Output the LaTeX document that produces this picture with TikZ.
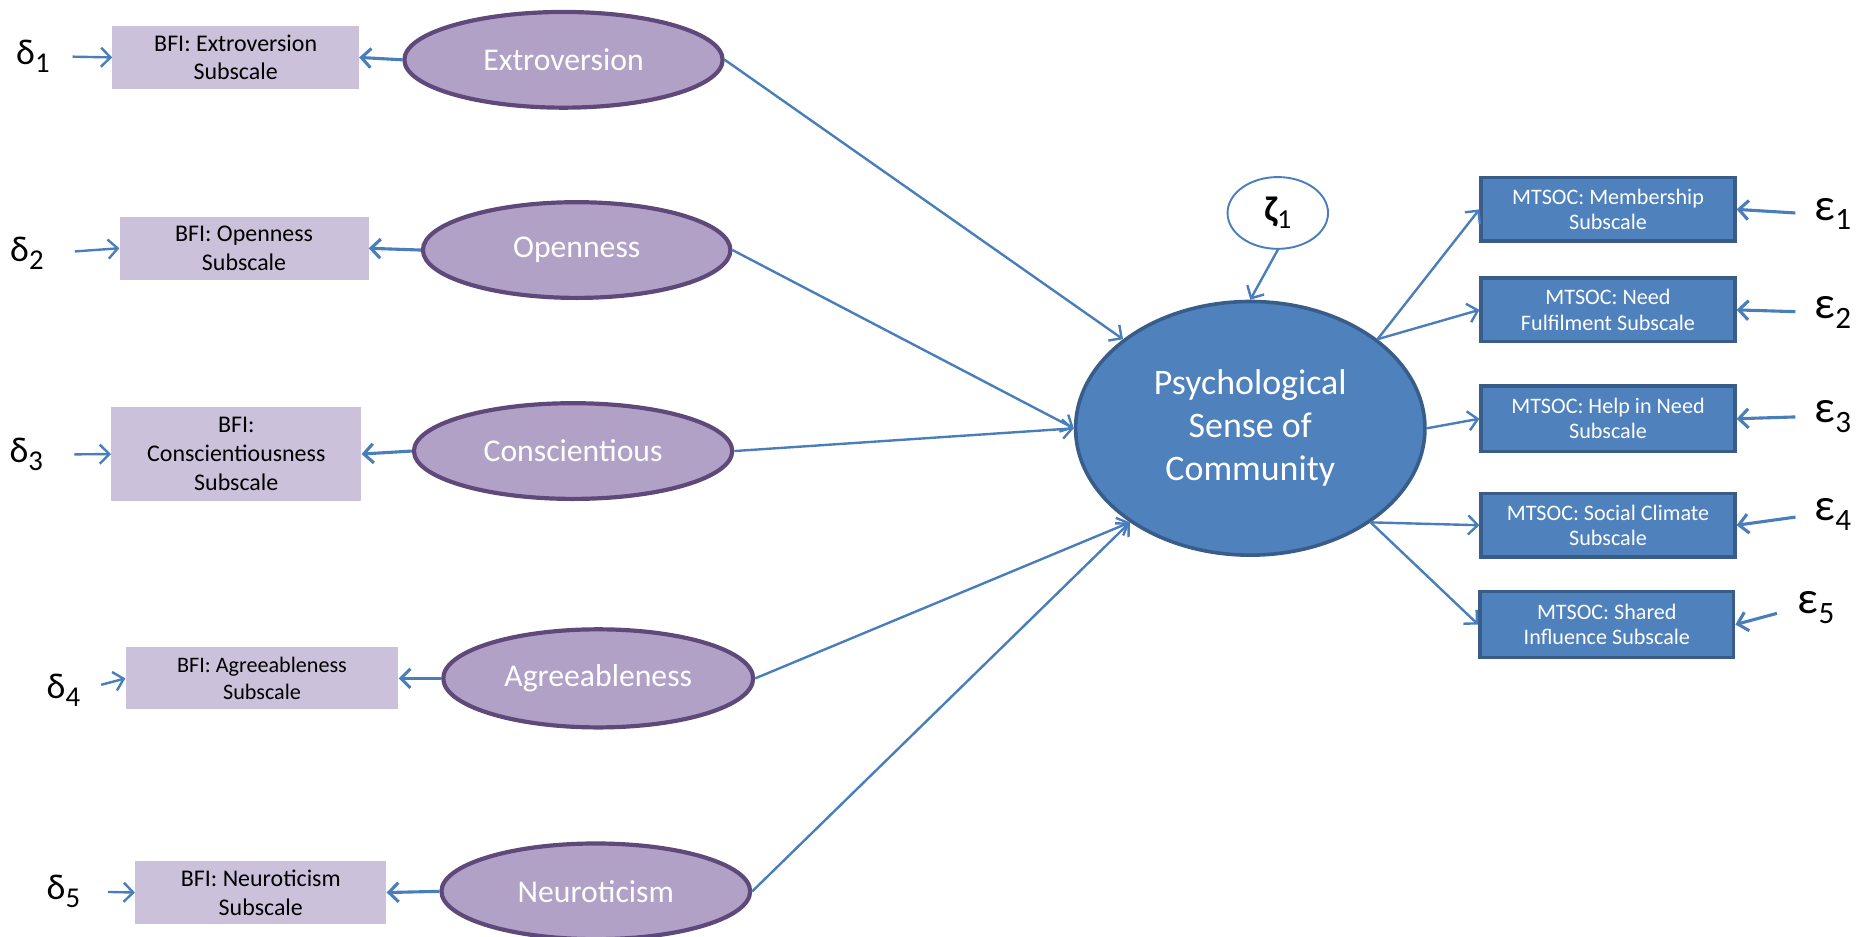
\documentclass[tikz,border=0pt]{standalone}
\usepackage{fontspec}
\setmainfont{Carlito}
\usetikzlibrary{arrows.meta,shapes.geometric}
\definecolor{arrowblue}{HTML}{4A7EBB}
\definecolor{boxblue}{HTML}{4F81BD}
\definecolor{boxblueline}{HTML}{385D8A}
\definecolor{lilac}{HTML}{CCC1DA}
\definecolor{purplefill}{HTML}{B2A1C7}
\definecolor{purpleline}{HTML}{5F497A}
\newcommand\lowsub[3]{\raisebox{-#2pt}{\fontsize{#1}{#1}\selectfont #3}}
\begin{document}
\begin{tikzpicture}[x=1pt,y=-1pt,
  bfibox/.style={rectangle, fill=lilac, inner sep=0pt, align=center, text=black,
    font=\fontsize{20}{24}\selectfont},
  latent/.style={ellipse, fill=purplefill, draw=purpleline, line width=3.5pt, inner sep=0pt,
    text=white, font=\fontsize{26.5}{30}\selectfont},
  central/.style={ellipse, fill=boxblue, draw=boxblueline, line width=3pt, inner sep=0pt,
    text=white, align=center, font=\fontsize{30}{36}\selectfont,
    minimum width=292pt, minimum height=212pt},
  mtsoc/.style={rectangle, fill=boxblue, draw=boxblueline, line width=3pt, inner sep=0pt,
    text=white, align=center, font=\fontsize{18.5}{21}\selectfont,
    minimum width=212pt},
  deltalabel/.style={inner sep=0pt, text=black, font=\fontsize{30}{30}\selectfont},
  epslabel/.style={inner sep=0pt, text=black, font=\fontsize{38}{38}\selectfont},
  disturb/.style={ellipse, fill=white, draw=arrowblue, line width=1.6pt, inner sep=0pt,
    minimum width=84pt, minimum height=60pt, font=\fontsize{30}{30}\selectfont},
  arr/.style={draw=arrowblue, line width=2pt, -{Straight Barb[length=8pt,width=16pt]}},
  thickarr/.style={arr, line width=2.6pt}
]
\useasboundingbox (0,0) rectangle (1568,783);

% left indicator boxes
\node[bfibox, minimum width=206pt, minimum height=52pt] (b1) at (197,48) {BFI: Extroversion\\Subscale};
\node[bfibox, minimum width=208pt, minimum height=53pt] (b2) at (204,207.5) {BFI: Openness\\Subscale};
\node[bfibox, minimum width=209pt, minimum height=79pt] (b3) at (197.5,379.5) {BFI:\\Conscientiousness\\Subscale};
\node[bfibox, minimum width=228pt, minimum height=52pt, font=\fontsize{18.5}{23}\selectfont] (b4) at (219,567) {BFI: Agreeableness\\Subscale};
\node[bfibox, minimum width=210pt, minimum height=52pt] (b5) at (218,746) {BFI: Neuroticism\\Subscale};

% delta labels
\node[deltalabel] (d1) at (27.5,47) {δ\lowsub{24}{6.5}{1}};
\node[deltalabel] (d2) at (22.5,212) {δ\lowsub{24}{6.5}{2}};
\node[deltalabel] (d3) at (22,380) {δ\lowsub{24}{6.5}{3}};
\node[deltalabel] (d4) at (53,577) {δ\lowsub{24}{6.5}{4}};
\node[deltalabel] (d5) at (53,745) {δ\lowsub{24}{6.5}{5}};

% latent personality ellipses
\node[latent, minimum width=266pt, minimum height=80pt] (ext) at (471,50) {Extroversion};
\node[latent, minimum width=257pt, minimum height=80pt] (ope) at (482,209) {Openness};
\node[latent, minimum width=266pt, minimum height=80pt] (con) at (479,377) {Conscientious};
\node[latent, minimum width=259pt, minimum height=82pt] (agr) at (500,567) {Agreeableness};
\node[latent, minimum width=258pt, minimum height=80pt] (neu) at (498,745) {Neuroticism};

% central construct
\node[central] (psc) at (1045,358) {Psychological\\Sense of\\Community};
\node[disturb] (zeta) at (1068,178) {{\bfseries ζ}\lowsub{23}{6}{1}};

% MTSOC boxes
\node[mtsoc, minimum height=53pt] (mem) at (1344,175) {MTSOC: Membership\\Subscale};
\node[mtsoc, minimum height=53pt] (need) at (1344,259) {MTSOC: Need\\Fulfilment Subscale};
\node[mtsoc, minimum height=55pt] (help) at (1344,350) {MTSOC: Help in Need\\Subscale};
\node[mtsoc, minimum height=53pt] (soc) at (1344,439) {MTSOC: Social Climate\\Subscale};
\node[mtsoc, minimum height=55pt] (sha) at (1343,522) {MTSOC: Shared\\Influence Subscale};

% epsilon labels
\node[epslabel] (e1) at (1532,179) {ε\lowsub{26}{8}{1}};
\node[epslabel] (e2) at (1532,261) {ε\lowsub{26}{8}{2}};
\node[epslabel] (e3) at (1532,348) {ε\lowsub{26}{8}{3}};
\node[epslabel] (e4) at (1532,430) {ε\lowsub{26}{8}{4}};
\node[epslabel] (e5) at (1518,508) {ε\lowsub{26}{8}{5}};

% delta arrows
\draw[arr, shorten <=19pt] (d1.east) -- (b1.west);
\draw[arr, shorten <=26pt] (d2.east) -- (b2.west);
\draw[arr, shorten <=26pt] (d3.east) -- (b3.west);
\draw[arr, shorten <=18pt] (d4.east) -- (b4.west);
\draw[arr, shorten <=23pt] (d5.east) -- (b5.west);

% loadings of personality indicators
\draw[thickarr] (ext.west) -- (b1.east);
\draw[thickarr] (ope.west) -- (b2.east);
\draw[thickarr] (con.west) -- (b3.east);
\draw[thickarr] (agr.west) -- (b4.east);
\draw[thickarr] (neu.west) -- (b5.east);

% structural paths
\draw[arr] (ext.east) -- (psc.145);
\draw[arr] (ope.east) -- (psc.west);
\draw[arr] (con.east) -- (psc.west);
\draw[arr] (agr.east) -- (psc.218);
\draw[arr] (neu.east) -- (psc.218);
\draw[arr] (zeta.south) -- (psc.north);

% loadings of MTSOC indicators
\draw[arr] (psc.35) -- (mem.west);
\draw[arr] (psc.35) -- (need.west);
\draw[arr] (psc.east) -- (help.west);
\draw[arr] (psc.322) -- (soc.west);
\draw[arr] (psc.322) -- (sha.west);

% epsilon arrows
\draw[thickarr, shorten <=16pt] (e1.west) -- (mem.east);
\draw[thickarr, shorten <=16pt] (e2.west) -- (need.east);
\draw[thickarr, shorten <=16pt] (e3.west) -- (help.east);
\draw[thickarr, shorten <=16pt] (e4.west) -- (soc.east);
\draw[thickarr, shorten <=18pt] (e5.west) -- (sha.east);
\end{tikzpicture}
\end{document}
